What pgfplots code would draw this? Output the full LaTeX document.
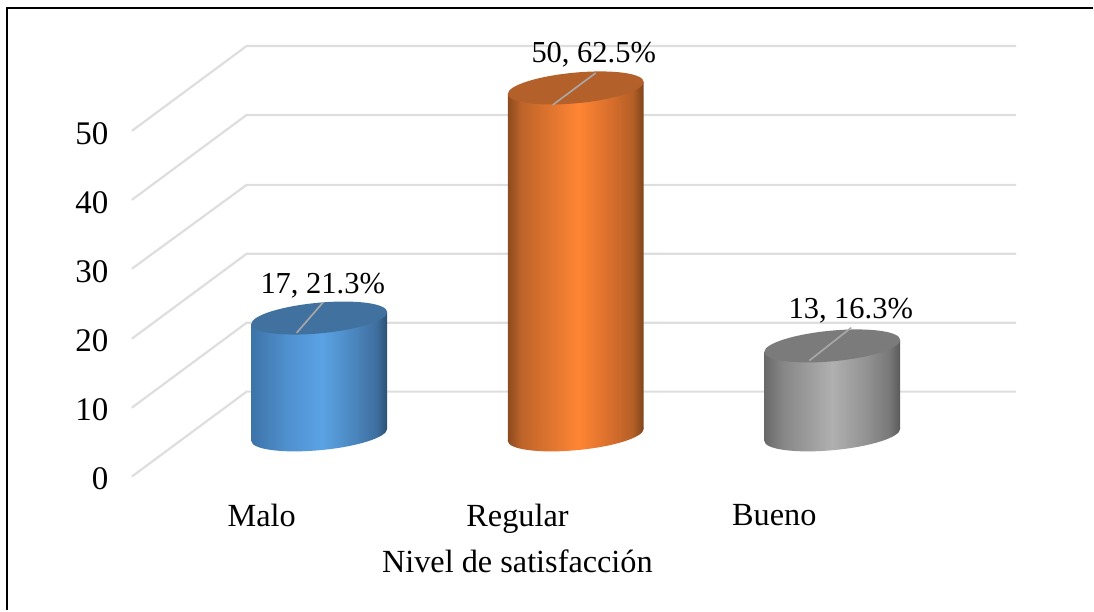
\documentclass[border=0pt]{standalone}
\usepackage{fontspec}
\setmainfont{Liberation Serif}
\usepackage{pgfplots}
\pgfplotsset{compat=1.18}
\definecolor{gridc}{HTML}{DEDEDE}
\definecolor{leaderc}{HTML}{A9A9A9}
\definecolor{ba}{HTML}{3D74A8}\definecolor{bb}{HTML}{4F90CF}\definecolor{bc}{HTML}{5BA3E5}
\definecolor{bd}{HTML}{4A85BD}\definecolor{be}{HTML}{3F6F9E}\definecolor{bf}{HTML}{2B5075}
\definecolor{oa}{HTML}{8C4B1E}\definecolor{ob}{HTML}{BE642A}\definecolor{oc}{HTML}{FF8533}
\definecolor{od}{HTML}{D76E2D}\definecolor{oe}{HTML}{B45F26}\definecolor{of}{HTML}{7D441C}
\definecolor{ga}{HTML}{696969}\definecolor{gb}{HTML}{878787}\definecolor{gc}{HTML}{B0B0B0}
\definecolor{gd}{HTML}{919191}\definecolor{ge}{HTML}{787878}\definecolor{gf}{HTML}{5A5A5A}
\pgfdeclarehorizontalshading{bluecyl}{100bp}{color(0bp)=(ba);
 color(25bp)=(ba); color(38bp)=(bb); color(51bp)=(bc); color(63bp)=(bd);
 color(71bp)=(be); color(75bp)=(bf); color(100bp)=(bf)}
\pgfdeclarehorizontalshading{orangecyl}{100bp}{color(0bp)=(oa);
 color(25bp)=(oa); color(30bp)=(ob); color(51bp)=(oc); color(63bp)=(od);
 color(71bp)=(oe); color(75bp)=(of); color(100bp)=(of)}
\pgfdeclarehorizontalshading{graycyl}{100bp}{color(0bp)=(ga);
 color(25bp)=(ga); color(32bp)=(gb); color(50bp)=(gc); color(63bp)=(gd);
 color(71bp)=(ge); color(75bp)=(gf); color(100bp)=(gf)}
\definecolor{topblue}{HTML}{41729F}
\definecolor{toporange}{HTML}{B4602A}
\definecolor{topgray}{HTML}{7B7B7B}
\newcommand\ellipsepath{\pgfpathellipse{\pgfpointorigin}{\pgfqpoint{68pt}{6pt}}{\pgfqpoint{0pt}{15.4pt}}}
\pgfdeclareplotmark{ellB}{\ellipsepath\pgfshadepath{bluecyl}{0}\pgfusepath{discard}}
\pgfdeclareplotmark{ellO}{\ellipsepath\pgfshadepath{orangecyl}{0}\pgfusepath{discard}}
\pgfdeclareplotmark{ellG}{\ellipsepath\pgfshadepath{graycyl}{0}\pgfusepath{discard}}
\pgfdeclareplotmark{top}{\ellipsepath\pgfusepath{fill}}
\pgfdeclareplotmark{leadA}{\pgfpathmoveto{\pgfqpoint{-22.5pt}{-14.7pt}}\pgfpathlineto{\pgfqpoint{3.5pt}{15.3pt}}\pgfusepath{stroke}}
\pgfdeclareplotmark{leadB}{\pgfpathmoveto{\pgfqpoint{-23pt}{-17pt}}\pgfpathlineto{\pgfqpoint{20pt}{15pt}}\pgfusepath{stroke}}
\pgfdeclareplotmark{leadC}{\pgfpathmoveto{\pgfqpoint{-23pt}{-14.7pt}}\pgfpathlineto{\pgfqpoint{19pt}{18.3pt}}\pgfusepath{stroke}}
\newcommand\tf{\fontsize{32.3}{38}\selectfont}
\newcommand\yf{\fontsize{33}{38}\selectfont}
\newcommand\lf{\fontsize{30.5}{36}\selectfont}
\begin{document}
\begin{tikzpicture}
\begin{axis}[
  at={(0pt,0pt)}, anchor=south west,
  width=885pt, height=431pt, scale only axis,
  xmin=-0.7303, xmax=2.7166, ymin=-5.73, ymax=56.02,
  clip=false,
  axis line style={draw=none}, tick style={draw=none},
  xtick={-0.224,0.773,1.774}, xticklabels={Malo,Regular,Bueno},
  ytick={-5.73,4.15,14.04,24.07,33.95,43.84}, yticklabels={0,10,20,30,40,50},
  /pgf/number format/assume math mode=true,
  xticklabel style={font=\tf, yshift=-24pt},
  yticklabel style={font=\yf, xshift=-20pt, yshift=-2.5pt},
  xlabel={Nivel de satisfacción},
  xlabel style={font=\tf, at={(axis description cs:0.436,-0.197)}, anchor=center},
]
% grid lines (front end, back end, right end)
\addplot[gridc, line width=2.2pt] coordinates {(-0.7303,-5.73) (-0.2829,6.45) (2.7166,6.45)};
\addplot[gridc, line width=2.2pt] coordinates {(-0.7303,4.15) (-0.2829,16.33) (2.7166,16.33)};
\addplot[gridc, line width=2.2pt] coordinates {(-0.7303,14.04) (-0.2829,26.22) (2.7166,26.22)};
\addplot[gridc, line width=2.2pt] coordinates {(-0.7303,24.07) (-0.2829,36.10) (2.7166,36.10)};
\addplot[gridc, line width=2.2pt] coordinates {(-0.7303,33.95) (-0.2829,46.13) (2.7166,46.13)};
\addplot[gridc, line width=2.2pt] coordinates {(-0.7303,43.84) (-0.2829,56.02) (2.7166,56.02)};
% Malo
\addplot[only marks, mark=ellB] coordinates {(0,0.25)};
\addplot[draw=none, shading=bluecyl, shading angle=0] coordinates {(-0.2648,16.14) (0.2648,17.86) (0.2648,1.11) (-0.2648,-0.61)} -- cycle;
\addplot[only marks, mark=top, draw=none, fill=topblue] coordinates {(0,17)};
\addplot[only marks, mark=leadA, mark options={draw=leaderc, line width=1.6pt}] coordinates {(0,17)};
% Regular
\addplot[only marks, mark=ellO] coordinates {(1,0.25)};
\addplot[draw=none, shading=orangecyl, shading angle=0] coordinates {(0.7352,49.14) (1.2648,50.86) (1.2648,1.11) (0.7352,-0.61)} -- cycle;
\addplot[only marks, mark=top, draw=none, fill=toporange] coordinates {(1,50)};
\addplot[only marks, mark=leadB, mark options={draw=leaderc, line width=1.6pt}] coordinates {(1,50)};
% Bueno
\addplot[only marks, mark=ellG] coordinates {(2,0.25)};
\addplot[draw=none, shading=graycyl, shading angle=0] coordinates {(1.7352,12.14) (2.2648,13.86) (2.2648,1.11) (1.7352,-0.61)} -- cycle;
\addplot[only marks, mark=top, draw=none, fill=topgray] coordinates {(2,13)};
\addplot[only marks, mark=leadC, mark options={draw=leaderc, line width=1.6pt}] coordinates {(2,13)};
% data labels
\addplot[draw=none, nodes near coords={17, 21.3\%}, every node near coord/.append style={font=\lf, anchor=base, xshift=3.5pt, yshift=25pt, inner sep=0pt}] coordinates {(0,17)};
\addplot[draw=none, nodes near coords={50, 62.5\%}, every node near coord/.append style={font=\lf, anchor=base, xshift=18pt, yshift=25pt, inner sep=0pt}] coordinates {(1,50)};
\addplot[draw=none, nodes near coords={13, 16.3\%}, every node near coord/.append style={font=\lf, anchor=base, xshift=18.5pt, yshift=27pt, inner sep=0pt}] coordinates {(2,13)};
\end{axis}
\draw[black, line width=2pt] (-124.5pt,-134pt) -- (-124.5pt,469pt) -- (962pt,469pt);
\path[use as bounding box] (-132pt,-134pt) rectangle (962pt,477pt);
\end{tikzpicture}
\end{document}
